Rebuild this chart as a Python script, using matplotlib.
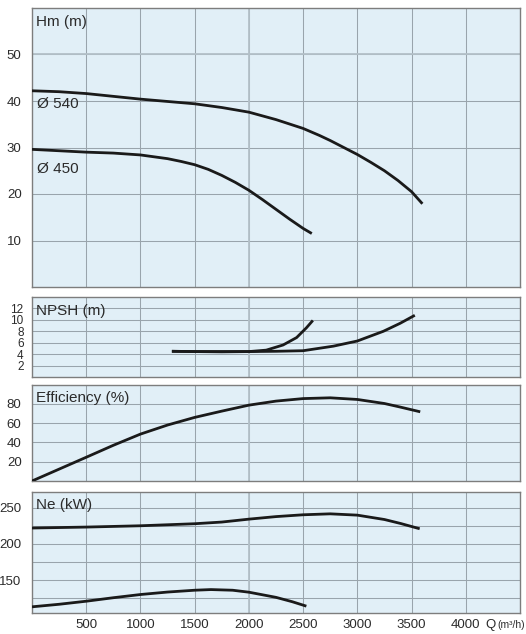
import matplotlib
matplotlib.use("Agg")
import matplotlib.pyplot as plt

plt.rcParams['font.family'] = ['Liberation Sans', 'DejaVu Sans']

# head curves Hm (m)
q540 = [0, 250, 500, 750, 1000, 1250, 1500, 1750, 2000, 2250, 2500, 2650, 2750, 3000, 3125, 3250, 3375, 3500, 3600]
h540 = [42.2, 42.0, 41.6, 41.0, 40.4, 39.9, 39.4, 38.6, 37.6, 36.0, 34.1, 32.6, 31.5, 28.5, 26.8, 25.0, 22.9, 20.5, 17.9]
q450 = [0, 250, 500, 750, 1000, 1250, 1375, 1500, 1625, 1750, 1875, 2000, 2125, 2250, 2375, 2500, 2580]
h450 = [29.6, 29.3, 29.0, 28.8, 28.4, 27.6, 27.0, 26.3, 25.3, 24.0, 22.5, 20.8, 18.8, 16.7, 14.6, 12.6, 11.5]

# NPSH (m)
qn_a = [1290, 1500, 1750, 2000, 2160, 2315, 2440, 2530, 2590]
npsh_a = [4.5, 4.45, 4.4, 4.45, 4.7, 5.6, 6.9, 8.6, 9.9]
qn_b = [1290, 1500, 2000, 2250, 2500, 2780, 3000, 3240, 3395, 3530]
npsh_b = [4.5, 4.45, 4.45, 4.5, 4.6, 5.4, 6.3, 8.0, 9.4, 10.8]

# efficiency (%)
q_eff = [0, 250, 500, 750, 1000, 1250, 1500, 1750, 2000, 2250, 2500, 2750, 3000, 3250, 3400, 3580]
eff = [0, 12.3, 24.6, 37.0, 48.6, 58.0, 65.9, 72.4, 78.6, 82.8, 85.4, 86.2, 84.5, 80.3, 76.5, 71.7]

# power Ne (kW)
q_ne1 = [0, 500, 1000, 1500, 1750, 2000, 2250, 2500, 2750, 3000, 3250, 3400, 3575]
ne1 = [221.8, 223.1, 224.9, 227.7, 230, 234, 237.5, 240, 241.3, 239.5, 233.5, 228, 220.8]
q_ne2 = [0, 250, 500, 750, 1000, 1250, 1500, 1650, 1850, 2000, 2250, 2400, 2530]
ne2 = [113.5, 117, 121.2, 126, 130.4, 133.8, 136.3, 137.2, 136.3, 133.6, 126.5, 120.5, 114.4]

xticks = [500, 1000, 1500, 2000, 2500, 3000, 3500, 4000]

bg = '#e1eff7'
grid_c = '#99a4ac'
line_c = '#1a1a1a'
txt_c = '#2b2b2b'

fig = plt.figure(figsize=(5.26, 6.34), dpi=100)
L, W = 32 / 526, 488 / 526
H = 634.0
boxes = [(8, 287), (297, 377), (384.5, 481), (491.5, 613)]
axes = [fig.add_axes([L, (H - b) / H, W, (b - t) / H]) for t, b in boxes]

ylims = [(0, 60), (0, 14), (0, 100), (105, 272)]
grid_y = [[10, 20, 30, 40, 50], [2, 4, 6, 8, 10, 12], [20, 40, 60, 80], [125, 150, 175, 200, 225, 250]]
lab_y = [[10, 20, 30, 40, 50], [2, 4, 6, 8, 10, 12], [20, 40, 60, 80], [150, 200, 250]]
titles = ['Hm (m)', 'NPSH (m)', 'Efficiency (%)', 'Ne (kW)']

for i, ax in enumerate(axes):
    ax.set_facecolor(bg)
    ax.set_xlim(0, 4500)
    ax.set_ylim(*ylims[i])
    for g in grid_y[i]:
        ax.axhline(g, color=grid_c, lw=0.75, zorder=1)
    for g in range(500, 4500, 500):
        ax.axvline(g, color=grid_c, lw=0.75, zorder=1)
    ax.axvline(2000, color='#b3c0c8', lw=1.3, zorder=1)
    for s in ax.spines.values():
        s.set_color('#7d7d7d')
        s.set_linewidth(1.0)
    ax.set_yticks(lab_y[i])
    ax.tick_params(axis='y', length=0, pad=7.5, labelsize=9.5, labelcolor=txt_c)
    ax.set_xticks(xticks)
    ax.tick_params(axis='x', length=0, pad=4, labelsize=9.5, labelcolor=txt_c)
    if i < 3:
        ax.set_xticklabels([])
    ax.annotate(titles[i], xy=(0, 1), xycoords='axes fraction', xytext=(3, -5),
                textcoords='offset points', ha='left', va='top', fontsize=11, color=txt_c)

axes[0].axhline(50, color='#b3c0c8', lw=1.3, zorder=1)
axes[1].tick_params(axis='y', labelsize=8.5, pad=6)

kw = dict(color=line_c, lw=2.0, solid_capstyle='butt', solid_joinstyle='round', zorder=3)
axes[0].plot(q540, h540, **kw)
axes[0].plot(q450, h450, **kw)
axes[0].text(45, 39.3, 'Ø 540', fontsize=11, color=txt_c, va='center', ha='left')
axes[0].text(45, 25.3, 'Ø 450', fontsize=11, color=txt_c, va='center', ha='left')

axes[1].plot(qn_a, npsh_a, **kw)
axes[1].plot(qn_b, npsh_b, **kw)
axes[2].plot(q_eff, eff, **kw)
axes[3].plot(q_ne1, ne1, **kw)
axes[3].plot(q_ne2, ne2, **kw)

axes[3].annotate('Q', xy=(4180, 0), xycoords=('data', 'axes fraction'), xytext=(0, -4),
                 textcoords='offset points', ha='left', va='top', fontsize=9.5, color=txt_c)
axes[3].annotate('(m³/h)', xy=(4290, 0), xycoords=('data', 'axes fraction'), xytext=(0, -4.8),
                 textcoords='offset points', ha='left', va='top', fontsize=7.5, color=txt_c)

fig.savefig('out.png', dpi=100)
